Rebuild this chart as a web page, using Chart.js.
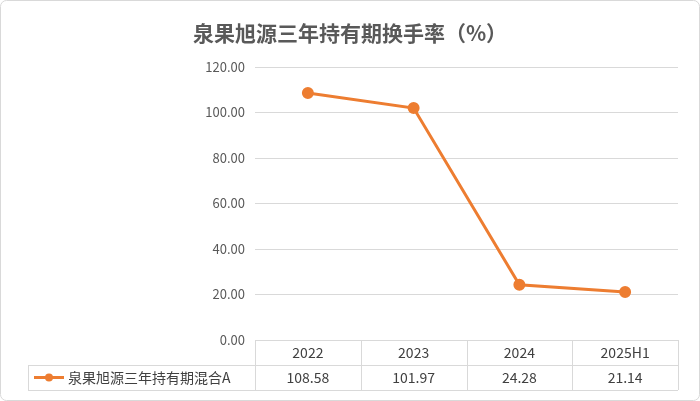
<!DOCTYPE html>
<html><head><meta charset="utf-8">
<script src="https://cdn.jsdelivr.net/npm/chart.js@4/dist/chart.umd.min.js"></script>
<style>html,body{margin:0;padding:0;background:#fff}#w{width:700px;height:401px}</style>
</head><body><div id="w"><canvas id="c"></canvas></div>
<script>
const categories = ["2022","2023","2024","2025H1"];
const seriesName = "泉果旭源三年持有期混合A";
const values = [108.58, 101.97, 24.28, 21.14];
const titleText = "泉果旭源三年持有期换手率（%）";
const FONT = "'Noto Sans CJK SC','Liberation Sans',sans-serif";
const COLOR = "#ED7D31";

const tablePlugin = {
  id: 'tbl',
  afterDraw(chart) {
    const ctx = chart.ctx, ca = chart.chartArea, xs = chart.scales.x;
    ctx.save();
    ctx.strokeStyle = '#d9d9d9'; ctx.lineWidth = 1;
    ctx.beginPath(); ctx.roundRect(0.5, 0.5, 699, 400, 6); ctx.stroke();
    ctx.fillStyle = '#595959'; ctx.font = 'bold 21px ' + FONT;
    ctx.textAlign = 'center'; ctx.textBaseline = 'middle';
    ctx.fillText(titleText, 350, 33);
    const r0 = Math.round(ca.bottom), r1 = r0 + 25, r2 = r1 + 25, L = 28;
    ctx.strokeStyle = '#d9d9d9';
    ctx.beginPath();
    ctx.moveTo(ca.left, r0 + .5); ctx.lineTo(ca.right, r0 + .5);
    ctx.moveTo(L, r1 + .5); ctx.lineTo(ca.right, r1 + .5);
    ctx.moveTo(L, r2 + .5); ctx.lineTo(ca.right, r2 + .5);
    ctx.moveTo(L + .5, r1); ctx.lineTo(L + .5, r2);
    const step = (ca.right - ca.left) / categories.length;
    for (let i = 0; i <= categories.length; i++) {
      const x = Math.round(ca.left + i * step) + .5;
      ctx.moveTo(x, r0); ctx.lineTo(x, r2);
    }
    ctx.stroke();
    ctx.fillStyle = '#404040'; ctx.font = '14px ' + FONT;
    categories.forEach((c, i) => {
      const x = xs.getPixelForValue(i);
      ctx.fillText(c, x, r0 + 13);
      ctx.fillText(values[i].toFixed(2), x, r1 + 13);
    });
    ctx.strokeStyle = COLOR; ctx.lineWidth = 3;
    ctx.beginPath(); ctx.moveTo(34, r1 + 12.5); ctx.lineTo(64, r1 + 12.5); ctx.stroke();
    ctx.fillStyle = COLOR; ctx.beginPath(); ctx.arc(49, r1 + 12.5, 4, 0, Math.PI * 2); ctx.fill();
    ctx.fillStyle = '#404040'; ctx.textAlign = 'left';
    ctx.fillText(seriesName, 68, r1 + 13);
    ctx.restore();
  }
};

new Chart(document.getElementById('c'), {
  type: 'line',
  data: { labels: categories, datasets: [{ label: seriesName, data: values, borderColor: COLOR, backgroundColor: COLOR, borderWidth: 3, pointRadius: 4.5, pointHoverRadius: 4.5, tension: 0 }] },
  options: {
    responsive: true, maintainAspectRatio: false, animation: false,
    layout: { padding: { top: 67, bottom: 53, left: 0, right: 22 } },
    plugins: { legend: { display: false }, title: { display: false }, tooltip: { enabled: false } },
    scales: {
      x: { offset: true, grid: { display: false }, border: { display: false }, ticks: { display: false } },
      y: { min: 0, max: 120, ticks: { stepSize: 20, color: '#595959', font: { size: 13, family: FONT }, padding: 10, callback: v => v.toFixed(2) },
           grid: { color: '#d9d9d9', drawTicks: false }, border: { display: false },
           afterFit(s) { s.width = 255; } }
    }
  },
  plugins: [tablePlugin]
});
</script></body></html>
